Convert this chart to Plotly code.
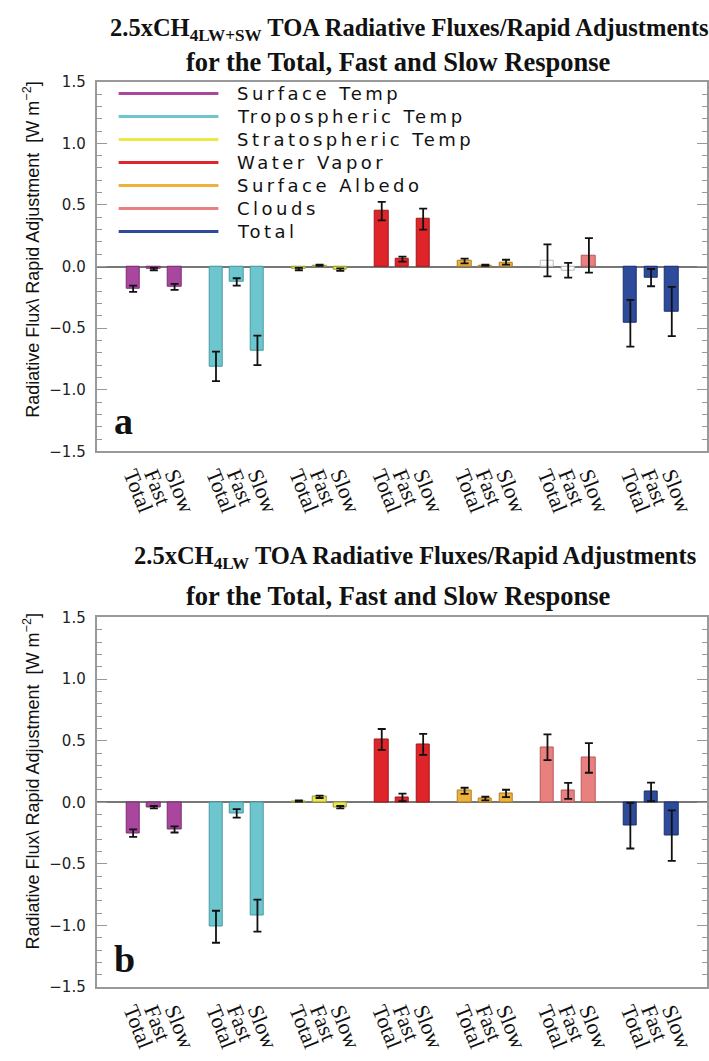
import plotly.graph_objects as go

W, H = 709, 1061

categories = ["Surface Temp", "Tropospheric Temp", "Stratospheric Temp",
              "Water Vapor", "Surface Albedo", "Clouds", "Total"]
responses = ["Total", "Fast", "Slow"]

# Panel a: 2.5xCH4 LW+SW
a_total = [-0.18, -0.81, -0.02, 0.45, 0.045, 0.05, -0.46]
a_fast = [-0.02, -0.125, 0.01, 0.06, 0.01, -0.03, -0.09]
a_slow = [-0.165, -0.68, -0.025, 0.385, 0.035, 0.09, -0.365]
a_total_err = [0.025, 0.12, 0.01, 0.075, 0.02, 0.13, 0.19]
a_fast_err = [0.01, 0.03, 0.005, 0.02, 0.005, 0.06, 0.07]
a_slow_err = [0.025, 0.12, 0.01, 0.085, 0.02, 0.14, 0.2]
a_total_sig = [True, True, True, True, True, False, True]
a_fast_sig = [True, True, True, True, True, False, True]
a_slow_sig = [True, True, True, True, True, True, True]

# Panel b: 2.5xCH4 LW
b_total = [-0.25, -1.01, 0.01, 0.51, 0.093, 0.447, -0.19]
b_fast = [-0.04, -0.09, 0.045, 0.04, 0.03, 0.093, 0.085]
b_slow = [-0.22, -0.92, -0.04, 0.47, 0.072, 0.36, -0.27]
b_total_err = [0.03, 0.13, 0.005, 0.085, 0.025, 0.105, 0.185]
b_fast_err = [0.01, 0.035, 0.01, 0.03, 0.015, 0.065, 0.075]
b_slow_err = [0.025, 0.13, 0.01, 0.085, 0.03, 0.12, 0.205]
b_total_sig = [True] * 7
b_fast_sig = [True] * 7
b_slow_sig = [True] * 7

y_ticks = [-1.5, -1.0, -0.5, 0.0, 0.5, 1.0, 1.5]

colors = ["#A8479D", "#6DC5CD", "#EDE84A", "#E0252A", "#EDB23C", "#E98080", "#2E4A9A"]
edge_colors = ["#7A2E72", "#4A9AA2", "#9A9A30", "#A01818", "#B07E20", "#B85858", "#1C3070"]

def px(x):
    return x / W

def py(y):
    return 1 - y / H

fig = go.Figure()

panels = [
    ("x", "y", (a_total, a_fast, a_slow), (a_total_err, a_fast_err, a_slow_err),
     (a_total_sig, a_fast_sig, a_slow_sig)),
    ("x2", "y2", (b_total, b_fast, b_slow), (b_total_err, b_fast_err, b_slow_err),
     (b_total_sig, b_fast_sig, b_slow_sig)),
]

tickvals, ticktext = [], []
for g in range(len(categories)):
    for k, r in enumerate(responses):
        tickvals.append(g * 4 + k)
        ticktext.append(r)

for xa, ya, vals, errs, sigs in panels:
    for g, cat in enumerate(categories):
        xs = [g * 4 + k for k in range(3)]
        ys = [vals[k][g] for k in range(3)]
        es = [errs[k][g] for k in range(3)]
        fills = [colors[g] if sigs[k][g] else "white" for k in range(3)]
        lines = [edge_colors[g] if sigs[k][g] else "#BBBBBB" for k in range(3)]
        fig.add_trace(go.Bar(
            x=xs, y=ys, xaxis=xa, yaxis=ya, width=0.65, name=cat,
            marker=dict(color=fills, line=dict(color=lines, width=1)),
            error_y=dict(type="data", array=es, visible=True, color="#111111",
                         thickness=1.8, width=4),
            showlegend=False,
        ))

x_range = [-1.757, 27.7]
xcommon = dict(range=x_range, tickvals=tickvals, ticktext=ticktext, tickangle=68,
               tickfont=dict(family="Liberation Serif", size=22, color="#111111"),
               showgrid=False, zeroline=False, showline=True, linecolor="#999999",
               linewidth=2, mirror=True, ticks="", fixedrange=True)
ycommon = dict(range=[-1.5, 1.5], tickvals=y_ticks, tickformat=".1f",
               tickfont=dict(family="DejaVu Sans", size=15, color="#222222"),
               showgrid=False, zeroline=True, zerolinecolor="#777777", zerolinewidth=1.5,
               showline=True, linecolor="#999999", linewidth=2, mirror="allticks",
               ticks="inside", ticklen=10, tickcolor="#999999", tickwidth=1,
               minor=dict(dtick=0.1, ticks="inside", ticklen=5, tickcolor="#999999"),
               ticklabelstandoff=6)

fig.update_layout(
    width=W, height=H, margin=dict(l=0, r=0, t=0, b=0),
    plot_bgcolor="white", paper_bgcolor="white", showlegend=False, bargap=0,
    xaxis=dict(domain=[px(97), 1.0], anchor="y", **xcommon),
    yaxis=dict(domain=[py(450), py(74)], anchor="x", **ycommon),
    xaxis2=dict(domain=[px(97), 1.0], anchor="y2", **xcommon),
    yaxis2=dict(domain=[py(995), py(619)], anchor="x2", **ycommon),
)

ann = []
titles = [
    ("<b>2.5xCH<sub>4LW+SW</sub> TOA Radiative Fluxes/Rapid Adjustments</b>", 411, 21, 24.5),
    ("<b>for the Total, Fast and Slow Response</b>", 400, 54, 26.5),
    ("<b>2.5xCH<sub>4LW</sub> TOA Radiative Fluxes/Rapid Adjustments</b>", 416, 558, 24.5),
    ("<b>for the Total, Fast and Slow Response</b>", 400, 597, 26.5),
]
for t, x, y, s in titles:
    ann.append(dict(text=t, x=px(x), y=py(y), xref="paper", yref="paper",
                    xanchor="center", yanchor="middle", showarrow=False,
                    font=dict(family="Liberation Serif", size=s, color="#111111")))

ytitle = "Radiative Flux\\ Rapid Adjustment  [W m<sup>−2</sup>]"
for yc in (244, 785):
    ann.append(dict(text=ytitle, x=px(32), y=py(yc), xref="paper", yref="paper",
                    xanchor="center", yanchor="middle", textangle=-90, showarrow=False,
                    font=dict(family="Liberation Sans", size=18, color="#111111")))

for lab, x, y in (("a", 124, 419), ("b", 125, 966)):
    ann.append(dict(text="<b>" + lab + "</b>", x=px(x), y=py(y), xref="paper", yref="paper",
                    xanchor="center", yanchor="middle", showarrow=False,
                    font=dict(family="Liberation Serif", size=38, color="#111111")))

shapes = []
for i, cat in enumerate(categories):
    yy = 86 + 23.4 * i
    shapes.append(dict(type="line", xref="paper", yref="paper", x0=px(119), x1=px(219),
                       y0=py(yy), y1=py(yy), line=dict(color=colors[i], width=3)))
    ann.append(dict(text='<span style="letter-spacing:3.5px">' + cat + '</span>',
                    x=px(236), y=py(yy), xref="paper", yref="paper",
                    xanchor="left", yanchor="middle", showarrow=False,
                    font=dict(family="DejaVu Sans", size=18, color="#111111")))

fig.update_layout(annotations=ann, shapes=shapes)
fig.write_html("out.html")
